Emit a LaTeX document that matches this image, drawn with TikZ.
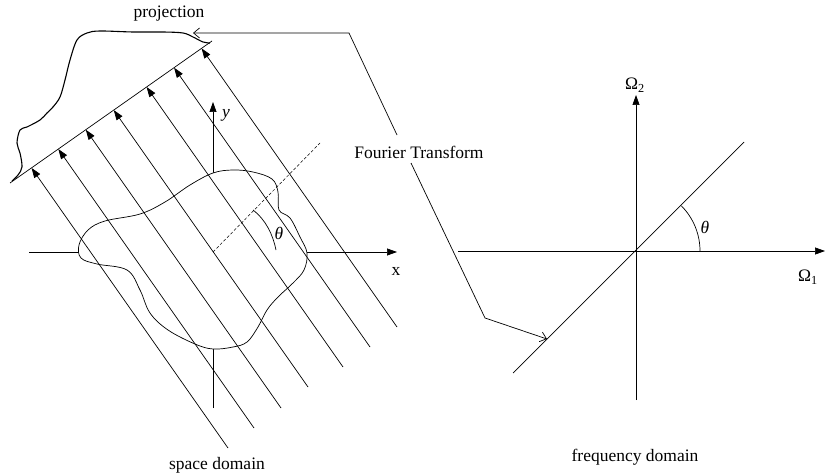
\documentclass[tikz,border=0pt]{standalone}
\usepackage{fontspec}
\setmainfont{Liberation Serif}
\usetikzlibrary{arrows.meta,calc}
\begin{document}
\begin{tikzpicture}[x=1pt,y=-1pt, line width=0.7pt,
  axis/.style={-{Triangle[length=10pt,width=7pt]}},
  proj/.style={-{Triangle[length=10pt,width=7pt]}},
  ftarrow/.style={-{Straight Barb[length=6pt,width=10pt]}},
  lbl/.style={font=\fontsize{17.5}{20}\selectfont, inner sep=0pt}]
\useasboundingbox (0,0) rectangle (826,473);

% ---------- space domain ----------
\coordinate (O) at (213,252);
\coordinate (xs) at (29,252);
\coordinate (xe) at (397,252);
\coordinate (ys) at (213,408);
\coordinate (ye) at (213,102);
\draw[axis] (xs) -- (xe);
\draw[axis] (ys) -- (ye);
\node[lbl] (xl) at (396,271) {x};
\node[lbl] (yl) at (226,115) {\textit{y}};

% object
\draw[fill=white] plot[smooth cycle, tension=0.6] coordinates {
 (213,173) (233,170) (253,172) (272,179) (278,192) (279,210) (290,218)
 (300,237) (307,253) (304,270) (293,283) (278,297) (267,310) (258,327)
 (247,342) (233,347) (213,349) (195,344) (168,330) (150,313) (140,290)
 (127,270) (97,264) (81,258) (79,245) (88,230) (105,221) (140,214)
 (165,202) (190,185)};

% projection base line
\coordinate (P1) at (10,183);
\coordinate (P2) at (212,41);
\draw (P1) -- (P2);

% projection profile
\draw[line width=1.1pt] plot[smooth, tension=0.55] coordinates {
 (12,181) (18,175) (22,167) (20,153) (17,143) (20,130) (27,127) (40,120)
 (47,113) (53,107) (60,97) (65,80) (70,60) (77,40) (87,33) (100,31)
 (133,32) (163,32) (183,33) (193,37) (203,42) (210,43)};

% parallel rays
\foreach \bx/\by [count=\i] in {228/448,254/428,281/408,308/387,343/367,370/347,397/327}{
  \coordinate (B\i) at (\bx,\by);
  \coordinate (U\i) at ($(B\i)+(-195,-278)$);
  \coordinate (T\i) at (intersection cs: first line={(B\i)--(U\i)}, second line={(P1)--(P2)});
  \draw[proj] (B\i) -- (T\i);
}

% dashed direction and angle
\coordinate (D) at (320,143);
\draw[dashed, dash pattern=on 3pt off 2pt, line width=0.5pt] (O) -- (D);
\draw (253,210) .. controls (266,220) and (273,235) .. (276,250);
\node[lbl] (th1) at (279,233) {\textit{θ}};

\node[lbl] (sd) at (217,465) {space domain};
\node[lbl] (pj) at (169,14) {projection};

% ---------- Fourier transform connector ----------
\node[lbl] (FT) at (419,152) {Fourier Transform};
\coordinate (pa) at (193,33);
\coordinate (c1) at (349,33);
\coordinate (c2) at (397,135);
\coordinate (c3) at (411,163);
\coordinate (c4) at (485,318);
\coordinate (fa) at (547,339);
\draw[ftarrow] (c2) -- (c1) -- (pa);
\draw[ftarrow] (c3) -- (c4) -- (fa);

% ---------- frequency domain ----------
\coordinate (R) at (636,251);
\coordinate (hs) at (458,251);
\coordinate (he) at (825,251);
\coordinate (vs) at (636,400);
\coordinate (ve) at (636,95);
\draw[axis] (hs) -- (he);
\draw[axis] (vs) -- (ve);
\coordinate (ds) at (513,373);
\coordinate (de) at (744,142);
\draw (ds) -- (de);
\draw (700,251) arc[start angle=0, end angle=45, radius=64pt];
\node[lbl] (th2) at (705,227) {\textit{θ}};
\node[lbl] (o2) at (635,85) {Ω\textsubscript{2}};
\node[lbl] (o1) at (808,277) {Ω\textsubscript{1}};
\node[lbl] (fd) at (635,457) {frequency domain};
\end{tikzpicture}
\end{document}
